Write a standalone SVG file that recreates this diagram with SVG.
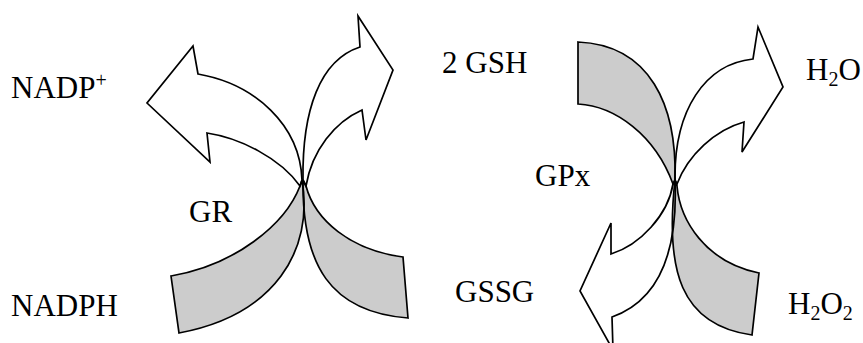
<svg xmlns="http://www.w3.org/2000/svg" xmlns:xlink="http://www.w3.org/1999/xlink" width="863" height="343" viewBox="0 0 863 343">
  <style>
    .gray { fill: #cccccc; stroke: none; }
    .white { fill: #ffffff; stroke: none; }
    .edge { fill: none; stroke: #000000; stroke-width: 1.7; stroke-linejoin: miter; }
    .lbl { font-family: "Liberation Serif", "Times New Roman", serif; font-size: 31px; fill: #000000; }
    .sub { font-size: 20px; }
  </style>
  <defs>
    <!-- GR cycle: NADPH -> NADP+ band (left) and GSSG -> 2 GSH band (right) -->
    <path id="grL-head" d="M 302,180 C 300,125 255,84 198,74 L 193,46 L 147,103 L 210,162 L 207,133 C 240,138 280,158 300,186 Z"/>
    <path id="grL-tail" d="M 300,186 C 285,225 235,265 171,276 L 179,333 C 275,315 314,250 302,180 Z"/>
    <path id="grR-head" d="M 303,180 C 302,110 320,60 360,47 L 358,16 L 393,70 L 366,140 L 362,110 C 335,122 312,150 306,186 Z"/>
    <path id="grR-tail" d="M 306,186 C 315,220 350,250 403,257 L 408,318 C 330,312 302,265 303,180 Z"/>
    <!-- GPx cycle: 2 GSH -> GSSG band (left) and H2O2 -> H2O band (right) -->
    <path id="gpL-tail" d="M 578,42 C 650,45 677,105 675,180 L 673,184 C 655,135 615,106 578,104 Z"/>
    <path id="gpL-head" d="M 675,180 C 678,250 660,300 612,317 L 613,350 L 580,291 L 611,223 L 611,254 C 640,245 668,215 673,184 Z"/>
    <path id="gpR-head" d="M 675,180 C 674,110 705,64 753,59 L 758,27 L 783,87 L 742,152 L 744,122 C 715,130 688,155 677,184 Z"/>
    <path id="gpR-tail" d="M 677,186 C 680,220 705,262 759,273 L 752,335 C 680,325 665,270 675,180 Z"/>
  </defs>

  <g id="connectors">
    <g id="gr-cycle">
      <use xlink:href="#grL-head" class="white"/>
      <use xlink:href="#grR-head" class="white"/>
      <use xlink:href="#grL-tail" class="gray"/>
      <use xlink:href="#grR-tail" class="gray"/>
      <use xlink:href="#grL-head" class="edge"/>
      <use xlink:href="#grR-head" class="edge"/>
      <use xlink:href="#grL-tail" class="edge"/>
      <use xlink:href="#grR-tail" class="edge"/>
    </g>
    <g id="gpx-cycle">
      <use xlink:href="#gpL-head" class="white"/>
      <use xlink:href="#gpR-head" class="white"/>
      <use xlink:href="#gpL-tail" class="gray"/>
      <use xlink:href="#gpR-tail" class="gray"/>
      <use xlink:href="#gpL-head" class="edge"/>
      <use xlink:href="#gpR-head" class="edge"/>
      <use xlink:href="#gpL-tail" class="edge"/>
      <use xlink:href="#gpR-tail" class="edge"/>
    </g>
  </g>

  <g id="nadp"><text class="lbl" x="11" y="97.5">NADP<tspan class="sub" dy="-11">+</tspan></text></g>
  <g id="nadph"><text class="lbl" x="11" y="315.5">NADPH</text></g>
  <g id="gr"><text class="lbl" x="189" y="221.5">GR</text></g>
  <g id="gsh"><text class="lbl" x="442" y="73">2 GSH</text></g>
  <g id="gpx"><text class="lbl" x="535" y="186">GPx</text></g>
  <g id="gssg"><text class="lbl" x="455" y="302">GSSG</text></g>
  <g id="h2o"><text class="lbl" x="806" y="80">H<tspan class="sub" dy="6">2</tspan><tspan dy="-6">O</tspan></text></g>
  <g id="h2o2"><text class="lbl" x="788" y="314">H<tspan class="sub" dy="6">2</tspan><tspan dy="-6">O</tspan><tspan class="sub" dy="6">2</tspan></text></g>
</svg>
